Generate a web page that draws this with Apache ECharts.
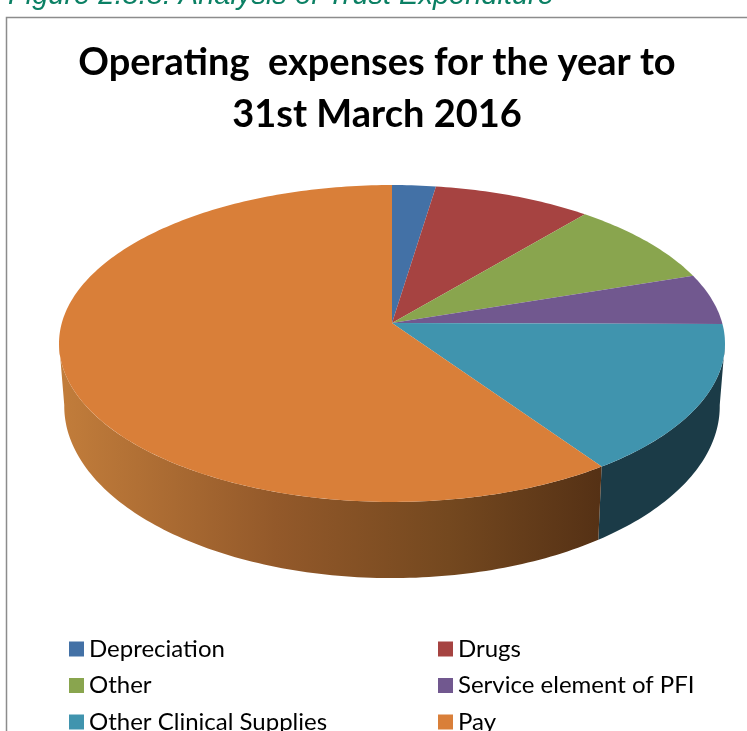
<!DOCTYPE html>
<html>
<head>
<meta charset="utf-8">
<style>
  html, body { margin: 0; height: 100%; background: #fff; }
  #container { width: 747px; height: 731px; }
</style>
<script src="https://cdn.jsdelivr.net/npm/echarts@6/dist/echarts.min.js"></script>
</head>
<body>
<div id="container"></div>
<script>
  const categories = ['Depreciation', 'Drugs', 'Other', 'Service element of PFI', 'Other Clinical Supplies', 'Pay'];
  const shares = [2.4, 8.7, 8.8, 5.2, 15.3, 59.6];
  const total = shares.reduce((a, b) => a + b, 0);

  const colors = ['#4371a6', '#a64341', '#89a54e', '#71588f', '#4094ae', '#d97f39'];
  // side wall fills, only the two front slices really show
  const payWall = {
    type: 'linear', x: 60, y: 0, x2: 600, y2: 0, global: true,
    colorStops: [
      { offset: 0, color: '#c27d3b' },
      { offset: 0.4, color: '#93592a' },
      { offset: 0.72, color: '#74481f' },
      { offset: 1, color: '#553115' }
    ]
  };
  const wallFills = ['#2a4566', '#672927', '#536430', '#453658', '#1b3b47', payWall];

  // tilted disc seen in perspective: the far edge is squeezed, so the apex sits above the middle
  const k = 0.1293;
  const topDisc = { x: 392, y: 323, a: 330.2, b: 155.8 };
  const bottomDisc = { x: 392, y: 384, a: 325, b: 169 };
  // the part of the rim that faces the viewer
  const rimFrom = 97;
  const rimTo = 263;

  function project(disc, deg) {
    const t = deg * Math.PI / 180;
    const u = Math.sin(t), v = Math.cos(t);
    const w = 1 + k * v;
    return [disc.x + disc.a * u / w, disc.y - disc.b * v / w];
  }

  function arc(disc, from, to) {
    const pts = [];
    const n = Math.max(2, Math.ceil(Math.abs(to - from)));
    for (let i = 0; i <= n; i++) {
      pts.push(project(disc, from + (to - from) * i / n));
    }
    return pts;
  }

  function startAngle(idx) {
    let sum = 0;
    for (let i = 0; i < idx; i++) sum += shares[i];
    return sum / total * 360;
  }

  const series = categories.map((name, idx) => ({
    type: 'custom',
    name: name,
    coordinateSystem: 'none',
    itemStyle: { color: colors[idx] },
    data: [shares[idx]],
    renderItem: (params, api) => {
      const from = startAngle(idx);
      const to = from + api.value(0) / total * 360;
      const children = [];
      const wallFrom = Math.max(from, rimFrom);
      const wallTo = Math.min(to, rimTo);
      if (wallTo > wallFrom) {
        const wall = arc(topDisc, wallFrom, wallTo).concat(arc(bottomDisc, wallTo, wallFrom));
        children.push({ type: 'polygon', z2: 1, shape: { points: wall }, style: { fill: wallFills[idx] } });
      }
      const top = [[topDisc.x, topDisc.y]].concat(arc(topDisc, from, to));
      children.push({ type: 'polygon', z2: 10, shape: { points: top }, style: { fill: colors[idx] } });
      return { type: 'group', children: children };
    }
  }));

  const legendText = { fontFamily: 'Lato', fontSize: 24, lineHeight: 20, color: '#000' };
  const option = {
    animation: false,
    backgroundColor: '#fff',
    title: [
      {
        text: 'Figure 2.8.8: Analysis of Trust Expenditure',
        left: 8, top: -19, padding: 0,
        textStyle: { fontFamily: 'Liberation Sans', fontStyle: 'italic', fontWeight: 'normal', fontSize: 29, color: '#0b8064' }
      },
      {
        text: 'Operating  expenses for the year to\n31st March 2016',
        left: 377, top: 37, padding: 0, textAlign: 'center',
        textStyle: { fontFamily: 'Lato', fontWeight: 'bold', fontSize: 38, lineHeight: 52, color: '#000' }
      }
    ],
    legend: [
      {
        data: ['Depreciation', 'Other', 'Other Clinical Supplies'],
        orient: 'vertical', left: 69, top: 637, height: 120, padding: 0,
        itemWidth: 15, itemHeight: 15, itemGap: 12.5, icon: 'rect', textStyle: legendText, selectedMode: false
      },
      {
        data: ['Drugs', 'Service element of PFI', 'Pay'],
        orient: 'vertical', left: 438, top: 637, height: 120, padding: 0,
        itemWidth: 15, itemHeight: 15, itemGap: 12.5, icon: 'rect', textStyle: legendText, selectedMode: false
      }
    ],
    graphic: [
      // chart area frame, runs off the right and bottom of the picture
      { type: 'rect', z: -1, shape: { x: 6.5, y: 17.5, width: 800, height: 800 }, style: { fill: '#fff', stroke: '#8c8c8c', lineWidth: 1.5 } }
    ],
    series: series
  };

  const mChart = echarts.init(document.getElementById('container'), null, { renderer: 'canvas' });
  mChart.setOption(option);
  window.addEventListener('resize', mChart.resize);
</script>
</body>
</html>
